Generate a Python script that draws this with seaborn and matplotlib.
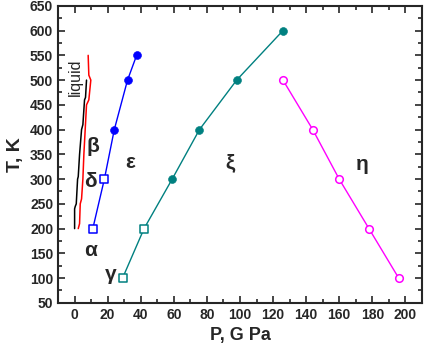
import matplotlib
matplotlib.use("Agg")
import matplotlib.pyplot as plt
import numpy as np
import pandas as pd
import seaborn as sns
from matplotlib.ticker import MultipleLocator

# phase boundaries (P in GPa, T in K)
liquid_P = [0.0, 0.0, 0.4, 1.0, 1.8, 2.2, 3.0, 4.2, 5.0, 6.0, 6.6, 7.2]
liquid_T = [200, 240, 245, 250, 300, 305, 350, 400, 410, 460, 465, 500]

delta_P = [2.2, 3.0, 3.4, 4.2, 5.0, 5.6, 6.4, 7.2, 8.6, 9.8, 8.6, 8.2]
delta_T = [200, 210, 250, 260, 300, 350, 400, 450, 460, 500, 510, 550]

eps_P = [11, 18, 24, 32, 37.5]
eps_T = [200, 300, 400, 500, 550]
eps_open = [True, True, False, False, False]

xi_P = [29, 42, 59, 75.5, 98, 126]
xi_T = [100, 200, 300, 400, 500, 600]
xi_open = [True, True, False, False, False, False]

eta_P = [126, 144, 160, 178, 196]
eta_T = [500, 400, 300, 200, 100]

phase_names = ["liquid", "β", "δ", "α", "γ", "ε", "ξ", "η"]
phase_P = [0.6, 11, 9.5, 9.5, 22, 33.5, 94, 174]
phase_T = [505, 365, 295, 155, 107, 333, 333, 330]

sns.set_style("ticks")
plt.rcParams['font.family'] = ['Liberation Sans', 'DejaVu Sans']
plt.rcParams['font.weight'] = 'bold'

fig = plt.figure(figsize=(4.27, 3.43), dpi=100)
ax = fig.add_axes([0.136, 0.117, 0.852, 0.866])

sns.lineplot(x=liquid_P, y=liquid_T, sort=False, estimator=None, color='black', lw=1.1, ax=ax)
sns.lineplot(x=delta_P, y=delta_T, sort=False, estimator=None, color='red', lw=1.1, ax=ax)

def boundary(P, T, is_open, color):
    sns.lineplot(x=P, y=T, sort=False, estimator=None, color=color, lw=1.0, ax=ax)
    df = pd.DataFrame({'P': P, 'T': T, 'o': is_open})
    sq = df[df.o & (df.index < 2)] if color != '#FF00FF' else df.iloc[0:0]
    circ_open = df if color == '#FF00FF' else df.iloc[0:0]
    fl = df[~df.o]
    if len(sq):
        ax.scatter(sq.P, sq['T'], marker='s', s=30, facecolors='white',
                   edgecolors=color, linewidths=1.1, zorder=3)
    if len(circ_open):
        ax.scatter(circ_open.P, circ_open['T'], marker='o', s=30, facecolors='white',
                   edgecolors=color, linewidths=1.1, zorder=3)
    if len(fl):
        sns.scatterplot(x=fl.P, y=fl['T'], marker='o', s=32, color=color,
                        edgecolor=color, ax=ax, zorder=3)

boundary(eps_P, eps_T, eps_open, '#0000FF')
boundary(xi_P, xi_T, xi_open, '#008080')
boundary(eta_P, eta_T, [True] * len(eta_P), '#FF00FF')

for name, p, t in zip(phase_names, phase_P, phase_T):
    if name == "liquid":
        ax.text(p, t, name, rotation=90, ha='center', va='center', fontsize=11.5, fontweight='normal')
    else:
        ax.text(p, t, name, ha='center', va='center', fontsize=15, fontweight='bold')

ax.set_xlim(-10, 210)
ax.set_ylim(50, 650)
ax.xaxis.set_major_locator(MultipleLocator(20))
ax.xaxis.set_minor_locator(MultipleLocator(10))
ax.yaxis.set_major_locator(MultipleLocator(50))
ax.yaxis.set_minor_locator(MultipleLocator(25))
ax.tick_params(which='both', direction='in', top=True, right=True, labelsize=10, width=1.2)
ax.tick_params(which='major', length=5)
ax.tick_params(which='minor', length=3)
for lab in ax.get_xticklabels() + ax.get_yticklabels():
    lab.set_fontweight('bold')
for s in ax.spines.values():
    s.set_linewidth(1.5)
ax.set_xlabel("P, G Pa", fontsize=13, fontweight='bold', labelpad=4)
ax.set_ylabel("T, K", fontsize=14, fontweight='bold', labelpad=4)

fig.savefig("out.png", dpi=100)
